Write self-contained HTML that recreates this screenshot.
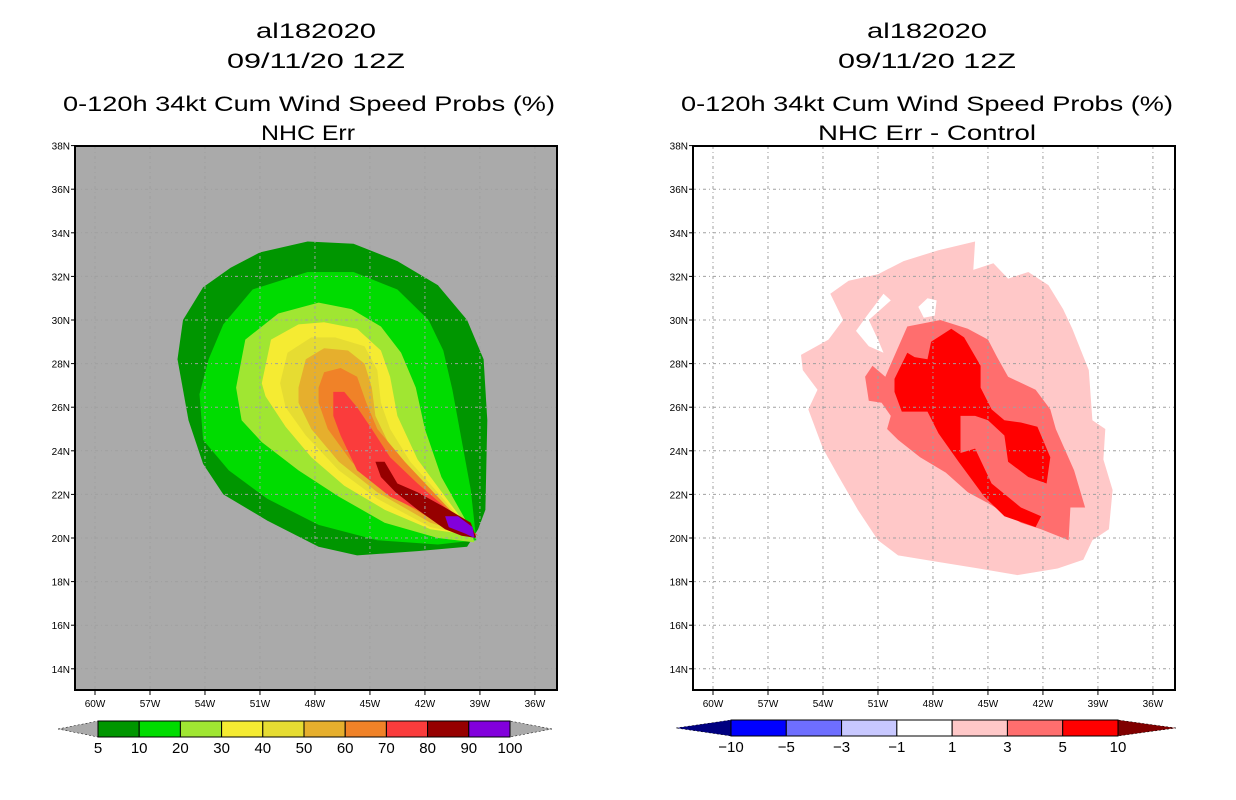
<!DOCTYPE html>
<html><head><meta charset="utf-8"><style>
html,body{margin:0;padding:0;background:#fff;}
svg{display:block;font-family:"Liberation Sans",sans-serif;}
</style></head><body>
<svg id="fig" width="1236" height="800" viewBox="0 0 1236 800" xmlns="http://www.w3.org/2000/svg">
<rect width="1236" height="800" fill="#fff"/>
<g font-size="21" text-anchor="middle" fill="#000">
<text x="316" y="38" textLength="120" lengthAdjust="spacingAndGlyphs">al182020</text>
<text x="316" y="68" textLength="178" lengthAdjust="spacingAndGlyphs">09/11/20 12Z</text>
<text x="309" y="111" textLength="492" lengthAdjust="spacingAndGlyphs">0-120h 34kt Cum Wind Speed Probs (%)</text>
<text x="308" y="140" textLength="94" lengthAdjust="spacingAndGlyphs">NHC Err</text>
</g>
<g font-size="21" text-anchor="middle" fill="#000">
<text x="927" y="38" textLength="120" lengthAdjust="spacingAndGlyphs">al182020</text>
<text x="927" y="68" textLength="178" lengthAdjust="spacingAndGlyphs">09/11/20 12Z</text>
<text x="927" y="111" textLength="492" lengthAdjust="spacingAndGlyphs">0-120h 34kt Cum Wind Speed Probs (%)</text>
<text x="927" y="140" textLength="218" lengthAdjust="spacingAndGlyphs">NHC Err - Control</text>
</g>
<g id="left"></g>
<g id="right"></g>
<g id="cbl"></g>
<g id="cbr"></g>
</svg>
<script>
// axis ticks
const lonTicks = [-60,-57,-54,-51,-48,-45,-42,-39,-36];
const latTicks = [14,16,18,20,22,24,26,28,30,32,34,36,38];
// left panel contour levels (probability %)
const leftLevels = [5,10,20,30,40,50,60,70,80,90];
const leftColors = ["#009600","#00dc00","#a0e632","#f5eb32","#e6dc32","#e6af2d","#f08228","#fa3c3c","#960000","#8200dc"];
const p5 = [[-54.1,31.5],[-52.6,32.4],[-51.0,33.1],[-48.4,33.6],[-45.9,33.5],[-43.5,32.7],[-41.3,31.6],[-39.7,30.0],[-38.8,28.2],[-38.6,25.4],[-38.7,21.3],[-39.1,20.4],[-39.7,19.6],[-42.4,19.4],[-45.7,19.2],[-47.8,19.6],[-50.6,20.8],[-53.0,22.0],[-54.1,23.4],[-54.9,25.4],[-55.5,28.2],[-55.2,30.0]];
const p10 = [[-51.4,31.4],[-48.4,32.2],[-45.9,32.2],[-43.5,31.4],[-41.8,30.0],[-41.0,28.6],[-40.5,26.8],[-40.0,24.5],[-39.5,22.2],[-39.2,19.9],[-41.3,19.7],[-44.6,19.9],[-47.8,20.6],[-50.6,21.8],[-52.7,23.1],[-54.1,24.5],[-54.3,26.6],[-53.8,28.2],[-53.0,29.8]];
const p20 = [[-51.8,29.1],[-50.0,30.3],[-47.8,30.8],[-46.0,30.5],[-44.4,29.7],[-43.3,28.5],[-42.5,26.9],[-42.0,25.0],[-41.1,22.8],[-39.5,20.4],[-39.3,19.8],[-41.3,20.0],[-44.2,20.7],[-46.7,21.9],[-48.9,23.1],[-50.9,24.4],[-52.0,25.4],[-52.3,26.9]];
const p30 = [[-50.9,27.1],[-50.4,29.1],[-48.9,29.8],[-47.5,29.9],[-45.7,29.6],[-44.4,28.6],[-43.9,27.4],[-43.5,25.6],[-42.4,23.6],[-40.9,21.9],[-39.3,20.1],[-41.7,20.4],[-44.2,21.3],[-46.4,22.4],[-48.2,23.7],[-49.6,25.1],[-50.7,26.5]];
const p40 = [[-49.9,27.1],[-49.5,28.5],[-48.2,29.2],[-46.9,29.2],[-45.3,28.8],[-44.6,27.7],[-44.4,26.2],[-43.9,25.0],[-42.8,23.5],[-41.1,21.9],[-39.3,20.1],[-41.7,20.5],[-44.6,21.8],[-46.7,23.1],[-48.5,24.7],[-49.6,26.0]];
const p50 = [[-48.9,26.9],[-48.5,28.2],[-47.5,28.7],[-46.2,28.6],[-45.3,28.0],[-44.9,26.9],[-44.7,25.6],[-43.9,24.2],[-42.4,22.7],[-39.3,20.1],[-41.7,20.7],[-44.6,22.1],[-46.7,23.5],[-48.2,25.0],[-48.9,26.2]];
const p60 = [[-47.8,26.9],[-47.5,27.6],[-46.6,27.8],[-45.7,27.4],[-45.2,26.2],[-44.6,25.0],[-43.1,23.5],[-39.3,20.1],[-41.3,20.7],[-44.2,22.1],[-46.0,23.5],[-47.3,25.0],[-47.8,26.2]];
const p70 = [[-47.0,26.7],[-46.4,26.7],[-45.7,26.0],[-44.9,25.0],[-43.9,23.7],[-42.4,22.5],[-39.1,20.1],[-40.9,20.7],[-43.9,21.9],[-45.7,23.1],[-46.6,24.7],[-47.0,25.6]];
const p80 = [[-44.7,23.5],[-44.2,23.5],[-43.5,22.5],[-42.4,22.1],[-40.9,21.4],[-39.5,20.7],[-39.2,20.0],[-40.0,20.1],[-40.9,20.4],[-42.4,21.3],[-43.6,22.1],[-44.4,22.8]];
const p90 = [[-40.9,21.0],[-40.2,21.0],[-39.4,20.5],[-39.3,20.0],[-39.8,20.2],[-40.7,20.5]];
// right panel difference contours
const rightLevels = [-10,-5,-3,-1,1,3,5,10];
const rightColors = ["#000080","#0000ff","#6e6eff","#c8c8ff","#ffffff","#ffc8c8","#ff6e6e","#ff0000","#800000"];
const d1 = [[-55.2,28.4],[-53.7,29.1],[-52.9,30.0],[-53.6,31.2],[-52.6,31.8],[-51.0,32.1],[-49.6,32.7],[-47.7,33.2],[-45.7,33.6],[-45.8,32.3],[-44.7,32.6],[-43.9,31.9],[-42.8,32.2],[-41.7,31.6],[-40.9,30.5],[-40.4,29.6],[-39.5,27.7],[-39.3,25.4],[-38.6,25.0],[-38.7,23.6],[-38.2,22.2],[-38.4,20.4],[-39.3,19.9],[-39.8,19.0],[-41.2,18.6],[-43.4,18.3],[-45.5,18.6],[-47.7,18.9],[-49.9,19.2],[-51.0,19.9],[-52.1,21.3],[-53.2,22.9],[-54.0,24.1],[-54.8,25.9],[-54.3,26.8],[-55.1,27.7]];
const d1hole = [[-50.7,31.2],[-50.3,30.9],[-51.5,30.0],[-51.0,29.1],[-50.7,28.5],[-51.5,28.8],[-52.2,29.5],[-51.6,30.2]];
const d1hole2 = [[-48.3,31.0],[-47.8,30.9],[-47.9,30.2],[-48.5,30.1],[-48.8,30.6]];
const d3 = [[-51.7,27.4],[-51.3,27.9],[-50.6,27.4],[-49.4,29.7],[-47.6,30.0],[-46.1,29.6],[-45.0,29.1],[-44.5,28.3],[-43.9,27.4],[-42.4,26.8],[-41.6,25.9],[-41.3,25.0],[-40.3,23.1],[-39.7,21.4],[-40.5,21.4],[-40.6,19.9],[-42.1,20.4],[-43.2,20.7],[-45.0,21.6],[-46.1,22.1],[-47.3,23.0],[-48.7,23.7],[-49.9,24.5],[-50.5,25.0],[-50.3,25.6],[-50.8,26.2],[-51.5,26.3]];
const d10 = [[-50.1,27.3],[-49.4,28.5],[-49.0,28.3],[-48.3,28.2],[-48.1,29.0],[-47.0,29.6],[-46.3,29.2],[-45.4,27.9],[-45.4,26.9],[-44.8,25.9],[-44.1,25.4],[-43.2,25.3],[-42.3,25.1],[-41.6,23.7],[-41.8,22.5],[-42.8,22.8],[-43.9,23.5],[-44.1,24.7],[-45.0,25.4],[-45.7,25.6],[-46.5,25.6],[-46.5,23.9],[-45.7,24.1],[-44.8,22.5],[-43.2,21.4],[-42.1,21.0],[-42.4,20.5],[-44.1,21.0],[-45.2,21.9],[-46.6,23.5],[-47.7,24.8],[-48.3,25.8],[-49.0,25.8],[-49.7,25.8],[-50.1,26.7]];

const NS="http://www.w3.org/2000/svg";
function mk(tag, attrs, parent){const e=document.createElementNS(NS,tag);for(const k in attrs)e.setAttribute(k,attrs[k]);parent.appendChild(e);return e;}
function makeAxes(x0){
  return {x: lon => x0 + (lon+60)*18.33, y: lat => 145.6 + (38-lat)*21.8};
}
const FRAME_T=146, FRAME_B=690;
function panel(g, fl, fr, ax, bg, layers){
  const bgr = mk('rect',{x:fl,y:FRAME_T,width:fr-fl,height:FRAME_B-FRAME_T,fill:bg},g);
  
  
  const clip = mk('clipPath',{id:'c'+fl},g);
  mk('rect',{x:fl,y:FRAME_T,width:fr-fl,height:FRAME_B-FRAME_T},clip);
  const cg = mk('g',{'clip-path':'url(#c'+fl+')'},g);
  layers.forEach(L=>{
    const d = L.polys.map(p=>'M'+p.map(q=>ax.x(q[0]).toFixed(1)+','+ax.y(q[1]).toFixed(1)).join('L')+'Z').join(' ');
    const path = mk('path',{d:d,fill:L.color,'fill-rule':'evenodd'},cg);
    
    
  });
  lonTicks.forEach(lon=>{
    const x=ax.x(lon);
    const ln=mk('line',{x1:x,y1:FRAME_T,x2:x,y2:FRAME_B,stroke:'#a0a0a0','stroke-width':1,'stroke-dasharray':'3,3,1,3'},cg);
    
    
    mk('line',{x1:x,y1:FRAME_B,x2:x,y2:FRAME_B+5,stroke:'#000'},g);
    const lb=mk('text',{x:x,y:FRAME_B+17,'font-size':10,'text-anchor':'middle',fill:'#000'},g);
    lb.textContent=Math.abs(lon)+'W';
    
    
  });
  latTicks.forEach(lat=>{
    const y=ax.y(lat);
    const ln=mk('line',{x1:fl,y1:y,x2:fr,y2:y,stroke:'#a0a0a0','stroke-width':1,'stroke-dasharray':'3,3,1,3'},cg);
    
    
    mk('line',{x1:fl-4,y1:y,x2:fl,y2:y,stroke:'#000'},g);
    const lb=mk('text',{x:fl-5,y:y+4,'font-size':10,'text-anchor':'end',fill:'#000'},g);
    lb.textContent=lat+'N';
    
    
  });
  const fr_=mk('rect',{x:fl,y:FRAME_T,width:fr-fl,height:FRAME_B-FRAME_T,fill:'none',stroke:'#000','stroke-width':2},g);
  
  
}
const axL = makeAxes(95), axR = makeAxes(713);
const lpolys=[p5,p10,p20,p30,p40,p50,p60,p70,p80,p90];
panel(document.getElementById('left'),75,557,axL,'#aaaaaa',
  lpolys.map((p,i)=>({polys:[p],color:leftColors[i],name:'prob-contour-'+leftLevels[i]})));
panel(document.getElementById('right'),693,1175,axR,'#ffffff',[
  {polys:[d1,d1hole,d1hole2],color:rightColors[5],name:'diff-contour-1'},
  {polys:[d3],color:rightColors[6],name:'diff-contour-3'},
  {polys:[d10],color:rightColors[7],name:'diff-contour-5'}]);

function colorbar(g, x0, x1, tl, tr, y0, y1, colors, labels, endL, endR){
  const n=colors.length, w=(x1-x0)/n, ym=(y0+y1)/2;
  const a=mk('polygon',{points:`${tl},${ym} ${x0},${y0} ${x0},${y1}`,fill:endL,stroke:'#000','stroke-width':0.5,'stroke-dasharray':'2,2'},g);
  
  
  const b=mk('polygon',{points:`${tr},${ym} ${x1},${y0} ${x1},${y1}`,fill:endR,stroke:'#000','stroke-width':0.5,'stroke-dasharray':'2,2'},g);
  
  
  colors.forEach((c,i)=>{
    const r=mk('rect',{x:x0+i*w,y:y0,width:w,height:y1-y0,fill:c,stroke:'#000','stroke-width':1},g);
    
    
  });
  labels.forEach((l,i)=>{
    const t=mk('text',{x:x0+i*w,y:y1+16,'font-size':15,'text-anchor':'middle',fill:'#000'},g);
    t.textContent=(l<0?'−'+Math.abs(l):l);
    
    
  });
}
colorbar(document.getElementById('cbl'),98,510,58,552,721,737,leftColors,[5,10,20,30,40,50,60,70,80,90,100],'#aaaaaa','#aaaaaa');
colorbar(document.getElementById('cbr'),731,1118,676,1176,720,736,rightColors.slice(1,8),rightLevels,rightColors[0],rightColors[8]);
</script>
</body></html>
